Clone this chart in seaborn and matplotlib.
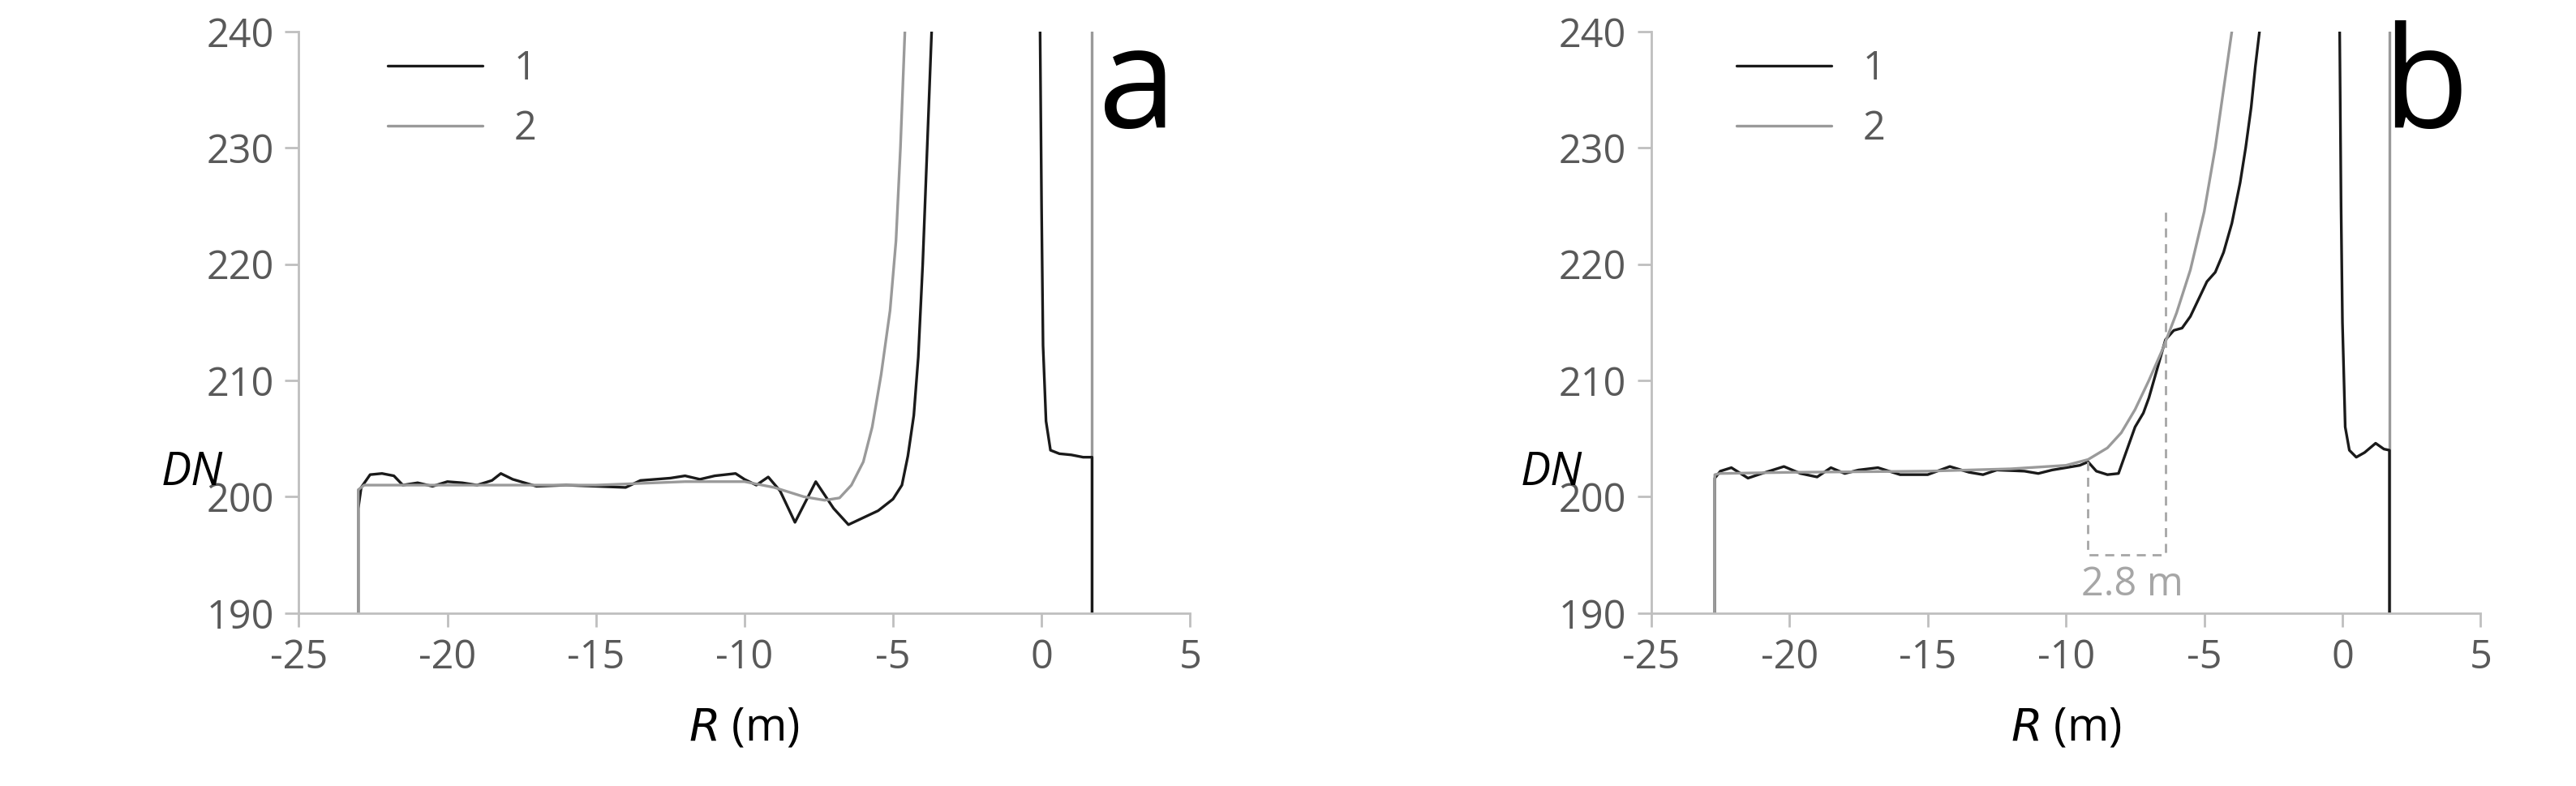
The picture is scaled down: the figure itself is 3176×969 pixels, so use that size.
import matplotlib
matplotlib.use("Agg")
import matplotlib.pyplot as plt
import seaborn as sns

sns.set_theme(style="white")
plt.rcParams["font.family"] = ["Open Sans", "DejaVu Sans"]
plt.rcParams["axes.unicode_minus"] = False

# Panel a, curve 1 (black): left plateau + rising branch
a1_x = [-23.0, -23.0, -22.9, -22.6, -22.2, -21.8, -21.5, -21.0, -20.5, -20.0, -19.5, -19.0,
        -18.5, -18.2, -17.8, -17.0, -16.0, -15.0, -14.0, -13.5, -12.5, -12.0, -11.5, -11.0,
        -10.3, -10.0, -9.6, -9.2, -8.8, -8.3, -7.6, -7.0, -6.5, -6.0, -5.5, -5.0, -4.7,
        -4.5, -4.3, -4.15, -4.0, -3.85, -3.7]
a1_y = [190.0, 199.0, 200.8, 201.9, 202.0, 201.8, 201.0, 201.2, 200.9, 201.3, 201.2, 201.0,
        201.4, 202.0, 201.5, 200.9, 201.0, 200.9, 200.8, 201.4, 201.6, 201.8, 201.5, 201.8,
        202.0, 201.5, 201.0, 201.7, 200.5, 197.8, 201.3, 199.0, 197.6, 198.2, 198.8, 199.8,
        201.0, 203.5, 207.0, 212.0, 220.0, 230.0, 240.0]
# Panel a, curve 1 right branch
a1r_x = [-0.05, 0.0, 0.05, 0.15, 0.3, 0.6, 1.0, 1.4, 1.7, 1.7]
a1r_y = [240.0, 225.0, 213.0, 206.5, 204.0, 203.7, 203.6, 203.4, 203.4, 190.0]
# Panel a, curve 2 (gray)
a2_x = [-23.0, -23.0, -22.8, -20.0, -15.0, -12.0, -10.0, -9.0, -8.0, -7.3, -6.8, -6.4, -6.0,
        -5.7, -5.4, -5.1, -4.9, -4.75, -4.6]
a2_y = [190.0, 200.6, 201.0, 201.0, 201.0, 201.3, 201.3, 200.8, 200.0, 199.7, 199.9, 201.0,
        203.0, 206.0, 210.5, 216.0, 222.0, 230.0, 240.0]

# Panel b, curve 1 (black)
b1_x = [-22.7, -22.7, -22.5, -22.1, -21.5, -21.0, -20.2, -19.6, -19.0, -18.5, -18.0, -17.5,
        -16.8, -16.0, -15.0, -14.2, -13.5, -13.0, -12.5, -11.5, -11.0, -10.5, -10.0, -9.5,
        -9.2, -8.9, -8.5, -8.1, -7.8, -7.5, -7.2, -7.0, -6.7, -6.4, -6.1, -5.8, -5.5, -5.2,
        -4.9, -4.6, -4.3, -4.0, -3.7, -3.5, -3.3, -3.15, -3.0]
b1_y = [190.0, 201.6, 202.2, 202.5, 201.6, 202.0, 202.6, 202.0, 201.7, 202.5, 202.0, 202.3,
        202.5, 201.9, 201.9, 202.6, 202.1, 201.9, 202.3, 202.2, 202.0, 202.3, 202.5, 202.7,
        203.0, 202.2, 201.9, 202.0, 204.0, 206.0, 207.2, 208.5, 211.0, 213.5, 214.3, 214.5,
        215.5, 217.0, 218.5, 219.3, 221.0, 223.5, 227.0, 230.0, 233.5, 237.0, 240.0]
b1r_x = [-0.1, -0.05, 0.0, 0.1, 0.25, 0.5, 0.8, 1.2, 1.5, 1.7, 1.7]
b1r_y = [240.0, 225.0, 215.0, 206.0, 204.0, 203.4, 203.8, 204.6, 204.1, 204.0, 190.0]
# Panel b, curve 2 (gray)
b2_x = [-22.7, -22.7, -22.5, -20.0, -15.0, -12.0, -10.0, -9.2, -8.5, -8.0, -7.5, -7.0, -6.5,
        -6.0, -5.5, -5.0, -4.6, -4.3, -4.0]
b2_y = [190.0, 201.9, 202.0, 202.1, 202.2, 202.4, 202.7, 203.2, 204.2, 205.5, 207.5, 210.0,
        212.7, 215.8, 219.5, 224.5, 230.0, 235.0, 240.0]

wall_x = 1.7  # gray vertical line position

BLACK = "#1a1a1a"
GRAY = "#9a9a9a"
TXT = "#595959"

fig = plt.figure(figsize=(31.76, 9.69), dpi=100)
ax_a = fig.add_axes([0.116, 0.22, 0.346, 0.74])
ax_b = fig.add_axes([0.641, 0.22, 0.322, 0.74])


def draw_panel(ax, x1, y1, xr, yr, x2, y2, letter):
    kw = dict(ax=ax, sort=False, estimator=None, lw=2.4)
    sns.lineplot(x=x1, y=y1, color=BLACK, label="1", **kw)
    sns.lineplot(x=x2, y=y2, color=GRAY, label="2", **kw)
    sns.lineplot(x=xr, y=yr, color=BLACK, **kw)
    ax.axvline(wall_x, color=GRAY, lw=2.4, zorder=1)
    ax.set_xlim(-25, 5)
    ax.set_ylim(190, 240)
    ax.set_xticks(range(-25, 6, 5))
    ax.set_yticks(range(190, 241, 10))
    for s in ["top", "right"]:
        ax.spines[s].set_visible(False)
    for s in ["left", "bottom"]:
        ax.spines[s].set_color("#bfbfbf")
        ax.spines[s].set_linewidth(2)
    ax.tick_params(axis="both", labelsize=35, colors=TXT, length=12, width=2,
                   color="#bfbfbf", direction="out", bottom=True, left=True, pad=10)
    ax.set_xlabel(r"$\it{R}$ (m)", fontsize=40, color="black", labelpad=24)
    ax.set_ylabel("DN", fontsize=40, style="italic", rotation=0, color="black")
    ax.yaxis.set_label_coords(-0.12, 0.2)
    ax.legend(loc="upper left", bbox_to_anchor=(0.06, 1.03), frameon=False,
              fontsize=35, handlelength=2.4, labelcolor=TXT)
    ax.text(0.985, 1.02, letter, transform=ax.transAxes, fontsize=125,
            ha="right", va="top", color="black")


draw_panel(ax_a, a1_x, a1_y, a1r_x, a1r_y, a2_x, a2_y, "a")
draw_panel(ax_b, b1_x, b1_y, b1r_x, b1r_y, b2_x, b2_y, "b")

# 2.8 m bracket in panel b
bracket_x = [-9.2, -9.2, -6.4, -6.4]
bracket_y = [203.0, 195.0, 195.0, 225.0]
ax_b.plot(bracket_x, bracket_y, color="#a6a6a6", lw=2, ls=(0, (4, 3)))
ax_b.text(-7.6, 192.4, "2.8 m", fontsize=35, color="#a6a6a6", ha="center", va="center")

fig.savefig("out.png", dpi=100)
